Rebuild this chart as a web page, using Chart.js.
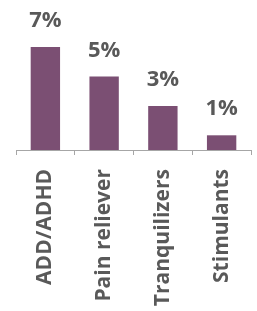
<!DOCTYPE html>
<html>
<head>
<meta charset="utf-8">
<script src="https://cdn.jsdelivr.net/npm/chart.js@4"></script>
<style>
  body { margin: 0; background: #fff; }
  canvas { display: block; }
</style>
</head>
<body>
<canvas id="myChart" width="257" height="311"></canvas>
<script>
// data
const categories = ['ADD/ADHD', 'Pain reliever', 'Tranquilizers', 'Stimulants'];
const values = [7, 5, 3, 1];
const valueLabels = ['7%', '5%', '3%', '1%'];

const fontFamily = "'Open Sans', sans-serif";
const textColor = '#595959';

// draws the % labels above each bar
const barLabels = {
  id: 'barLabels',
  afterDatasetsDraw(chart) {
    const c = chart.ctx;
    const meta = chart.getDatasetMeta(0);
    c.save();
    c.font = 'bold 22px ' + fontFamily;
    c.fillStyle = textColor;
    c.textAlign = 'center';
    c.textBaseline = 'alphabetic';
    meta.data.forEach((bar, i) => {
      c.fillText(valueLabels[i], bar.x, bar.y - 20);
    });
    c.restore();
  }
};

const ctx = document.querySelector('#myChart').getContext('2d');
const myChart = new Chart(ctx, {
  type: 'bar',
  data: {
    labels: categories,
    datasets: [{
      data: values,
      backgroundColor: '#7B4F73',
      barPercentage: 0.5,
      categoryPercentage: 1
    }]
  },
  options: {
    responsive: false,
    animation: false,
    layout: { padding: { left: 16, right: 6, top: 3, bottom: 0 } },
    plugins: {
      legend: { display: false },
      tooltip: { enabled: false }
    },
    scales: {
      x: {
        afterFit(scale) {
          scale.height = 161;
          // keep the rotated labels from shrinking the plot width
          scale.paddingLeft = 0;
          scale.paddingRight = 0;
        },
        border: { color: '#A6A6A6', width: 1 },
        grid: {
          drawOnChartArea: false,
          drawTicks: true,
          tickLength: 5,
          color: '#A6A6A6',
          offset: true
        },
        ticks: {
          autoSkip: false,
          minRotation: 90,
          maxRotation: 90,
          padding: 14,
          color: textColor,
          font: { family: fontFamily, size: 21, weight: 'bold' }
        }
      },
      y: {
        display: false,
        min: 0,
        max: 10
      }
    }
  },
  plugins: [barLabels]
});
</script>
</body>
</html>
